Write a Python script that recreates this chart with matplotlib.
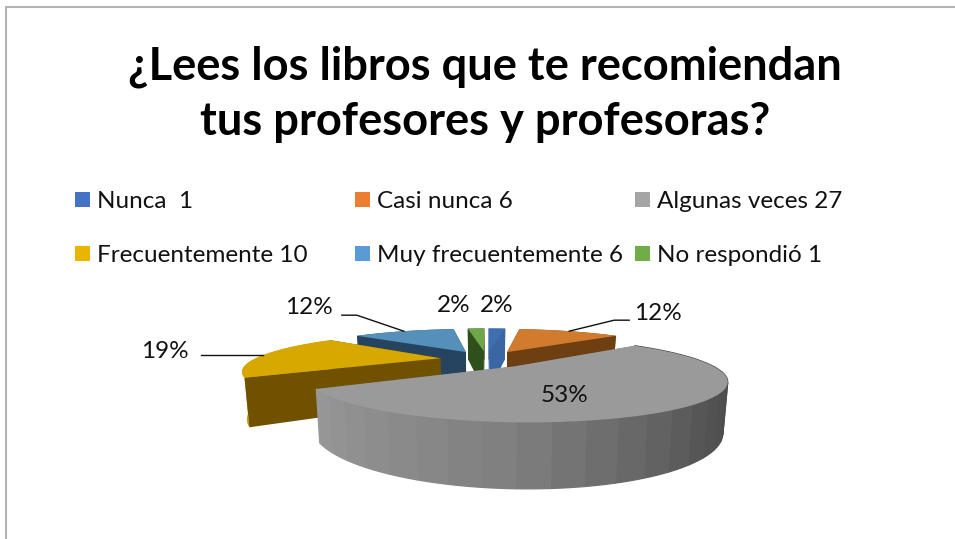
import numpy as np
import matplotlib
matplotlib.use("Agg")
import matplotlib.pyplot as plt
from matplotlib.patches import Polygon, Rectangle

plt.rcParams['font.family'] = ['Lato', 'DejaVu Sans']

# ---- data ----
title_lines = ["¿Lees los libros que te recomiendan", "tus profesores y profesoras?"]
categories = ["Nunca  1", "Casi nunca 6", "Algunas veces 27",
              "Frecuentemente 10", "Muy frecuentemente 6", "No respondió 1"]
values = [1, 6, 27, 10, 6, 1]
pct_labels = ["2%", "12%", "53%", "19%", "12%", "2%"]
top_colors = ["#3F6FAE", "#D17B2E", "#9A9A9A", "#D6A800", "#5590BB", "#70A54A"]
legend_colors = ["#4472C4", "#ED7D31", "#A5A5A5", "#EAB500", "#5B9BD5", "#70AD47"]
cut_colors = ["#3A66A3", "#6E3F10", "#6E6E6E", "#6F5100", "#264460", "#2F4F1B"]
rim_colors = ["#3A66A3", "#7A4612", None, "#C79C00", "#2B4C6B", "#2F4F1B"]

# ---- layout / projection ----
W, H = 955, 539
CX, CY, RX, RY, K = 486.5, 359.0, 186.0, 33.6, 0.30
EXPLODE, DEPTH, BOTTOM = 0.25, 42.5, 0.98


def top_pt(u, v):
    s = 1.0 / (1.0 + K * v)
    return CX + RX * u * s, CY - RY * v * s


def bot_pt(u, v):
    s = 1.0 / (1.0 + K * v)
    x, y = top_pt(u, v)
    return CX + (x - CX) * BOTTOM, y + DEPTH * s


fig = plt.figure(figsize=(W / 100, H / 100), dpi=100)
ax = fig.add_axes([0, 0, 1, 1])
ax.set_xlim(0, W)
ax.set_ylim(H, 0)
ax.axis("off")

# frame
ax.plot([5.5, 5.5, W], [H, 6.5, 6.5], color="#B4B4B4", lw=1.5, solid_joinstyle="miter")

# title
ax.text(485, 67, title_lines[0], ha="center", va="center", fontsize=32.6,
        fontweight="bold", color="black")
ax.text(485, 122, title_lines[1], ha="center", va="center", fontsize=32.6,
        fontweight="bold", color="black")

# legend
legend_x = [75, 355, 635]
legend_y = [200, 254]
for i, (lab, col) in enumerate(zip(categories, legend_colors)):
    x = legend_x[i % 3]
    y = legend_y[i // 3]
    ax.add_patch(Rectangle((x, y - 8), 15, 15, facecolor=col, edgecolor="none"))
    ax.text(x + 22, y + 2, lab, ha="left", va="center", fontsize=17.5, color="#111111")

# wedge geometry (clockwise from 12 o'clock)
fracs = np.array(values, float) / np.sum(values)
edges = np.concatenate([[0], np.cumsum(fracs)]) * 360.0
mids = (edges[:-1] + edges[1:]) / 2


def world(i, th):
    m = np.radians(mids[i])
    t = np.radians(th)
    return EXPLODE * np.sin(m) + np.sin(t), EXPLODE * np.cos(m) + np.cos(t)


def apex(i):
    m = np.radians(mids[i])
    return EXPLODE * np.sin(m), EXPLODE * np.cos(m)


def gray_shade(th):
    g = np.interp(th, [100, 135, 185, 240], [72, 84, 128, 152])
    return (g / 255, g / 255, g / 255)


def cut_poly(i, th):
    a = apex(i)
    c = world(i, th)
    return [top_pt(*a), top_pt(*c), bot_pt(*c), bot_pt(*a)]


def draw_wedge(i, z):
    a0, a1 = edges[i], edges[i + 1]
    c0, c1 = world(i, a0), world(i, a1)
    order = [a0, a1] if abs(c0[0]) < abs(c1[0]) else [a1, a0]
    ths = np.linspace(a0, a1, max(int((a1 - a0) / 2) + 2, 3))

    def rim():
        if i == 2:
            step = np.append(np.arange(a0, a1, 7.0), a1)
            for t0, t1 in zip(step[:-1], step[1:]):
                tt = np.linspace(t0, t1, 6)
                up = [top_pt(*world(i, t)) for t in tt]
                lo = [bot_pt(*world(i, t)) for t in tt[::-1]]
                col = gray_shade((t0 + t1) / 2)
                ax.add_patch(Polygon(up + lo, closed=True, facecolor=col,
                                     edgecolor=col, lw=0.9, joinstyle="round", zorder=z))
        else:
            up = [top_pt(*world(i, t)) for t in ths]
            lo = [bot_pt(*world(i, t)) for t in ths[::-1]]
            ax.add_patch(Polygon(up + lo, closed=True, facecolor=rim_colors[i],
                                 edgecolor="none", zorder=z))

    def cuts():
        for th in order:
            ax.add_patch(Polygon(cut_poly(i, th), closed=True, facecolor=cut_colors[i],
                                 edgecolor="none", zorder=z))

    if i == 2:
        cuts()
        rim()
    else:
        rim()
        cuts()
    pts = [top_pt(*apex(i))] + [top_pt(*world(i, t)) for t in ths]
    ax.add_patch(Polygon(pts, closed=True, facecolor=top_colors[i], edgecolor="none",
                         zorder=z))


for z, i in enumerate([5, 0, 4, 1, 3, 2]):
    draw_wedge(i, 2 + z)

# data labels
label_pos = {0: (497, 305), 1: (658, 313), 2: (565, 395), 3: (165, 351), 4: (309, 308), 5: (454, 305)}
for i, lab in enumerate(pct_labels):
    x, y = label_pos[i]
    ax.text(x, y, lab, ha="center", va="center", fontsize=17.5, color="#111111", zorder=20)

# leader lines: rim point -> elbow -> next to the label
leaders = {1: (45, -11, 15), 3: (0, 0, -62), 4: (-47, -16, -15)}
for i, (dx, dy, tail) in leaders.items():
    x0, y0 = top_pt(*world(i, mids[i]))
    x1, y1 = x0 + dx, y0 + dy
    ax.plot([x0, x1, x1 + tail], [y0, y1, y1], color="#111111", lw=1.0, zorder=19)

fig.savefig("out.png", dpi=100)
